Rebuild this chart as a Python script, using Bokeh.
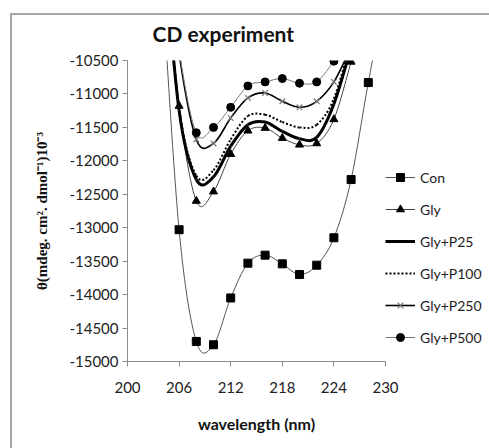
from bokeh.plotting import figure
from bokeh.models import FixedTicker, Legend, LegendItem
from bokeh.embed import file_html
from bokeh.resources import INLINE

# ---------------- data ----------------
x_ticks = [200, 206, 212, 218, 224, 230]
y_ticks = [-15000, -14500, -14000, -13500, -13000, -12500, -12000, -11500, -11000, -10500]
y_tick_labels = ["-15000", "-14500", "-14000", "-13500", "-13000", "-12500",
                 "-12000", "-11500", "-11000", "-10500"]

con_wl = [204, 206, 208, 210, 212, 214, 216, 218, 220, 222, 224, 226, 228, 230]
con = [-9300, -13030, -14700, -14750, -14050, -13530, -13410, -13540, -13700,
       -13560, -13150, -12280, -10830, -9500]

gly_wl = [204, 206, 208, 210, 212, 214, 216, 218, 220, 222, 224, 226]
gly = [-8500, -11180, -12600, -12460, -11900, -11550, -11510, -11660, -11760,
       -11740, -11380, -10520]

p25_wl = [204, 206, 208, 210, 212, 214, 216, 218, 220, 222, 224, 226]
p25 = [-8500, -11250, -12280, -12240, -11780, -11460, -11420, -11560, -11670,
       -11650, -11150, -10300]

p100_wl = [204, 206, 208, 210, 212, 214, 216, 218, 220, 222, 224, 226]
p100 = [-8500, -11200, -12220, -12140, -11680, -11330, -11310, -11420, -11500,
        -11460, -11070, -10200]

p250_wl = [204, 206, 208, 210, 212, 214, 216, 218, 220, 222, 224, 226]
p250 = [-8300, -10400, -11680, -11740, -11360, -11060, -10985, -11110, -11200,
        -11110, -10820, -10300]

p500_wl = [204, 206, 208, 210, 212, 214, 216, 218, 220, 222, 224]
p500 = [-8300, -10350, -11580, -11500, -11200, -10880, -10820, -10770, -10840,
        -10820, -10510]

series_names = ["Con", "Gly", "Gly+P25", "Gly+P100", "Gly+P250", "Gly+P500"]


def smooth_segments(xs, ys):
    """Bezier control points (Catmull-Rom style smoothing, as in a smoothed line chart)."""
    n = len(xs)
    out = {k: [] for k in ("x0", "y0", "x1", "y1", "cx0", "cy0", "cx1", "cy1")}
    for i in range(n - 1):
        xm, ym = (xs[i - 1], ys[i - 1]) if i > 0 else (xs[i], ys[i])
        xp, yp = (xs[i + 2], ys[i + 2]) if i + 2 < n else (xs[i + 1], ys[i + 1])
        out["x0"].append(xs[i]); out["y0"].append(ys[i])
        out["x1"].append(xs[i + 1]); out["y1"].append(ys[i + 1])
        out["cx0"].append(xs[i] + (xs[i + 1] - xm) / 6.0)
        out["cy0"].append(ys[i] + (ys[i + 1] - ym) / 6.0)
        out["cx1"].append(xs[i + 1] - (xp - xs[i]) / 6.0)
        out["cy1"].append(ys[i + 1] - (yp - ys[i]) / 6.0)
    return out


# ---------------- figure ----------------
p = figure(width=489, height=448, x_range=(200, 230), y_range=(-15000, -10500),
           output_backend="svg", toolbar_location=None,
           frame_width=258, frame_height=301,
           min_border_left=127, min_border_top=60, min_border_right=104, min_border_bottom=87)
# chart-area border (left and top edges) painted behind a transparent canvas
p.styles = {"background": "linear-gradient(#a6a6a6,#a6a6a6) 10px 13px / 100% 2px no-repeat, "
                          "linear-gradient(#a6a6a6,#a6a6a6) 10px 13px / 2px 100% no-repeat, white"}
p.background_fill_alpha = 0
p.border_fill_alpha = 0
p.outline_line_color = None
p.grid.visible = False

p.title.text = "CD experiment"
p.title.align = "left"
p.title.text_font = "Lato"
p.title.text_font_style = "bold"
p.title.text_font_size = "21px"
p.title.text_color = "#111111"
p.title.offset = 25
p.title.standoff = 29

for ax in (p.xaxis[0], p.yaxis[0]):
    ax.axis_line_color = "#8c8c8c"
    ax.major_tick_line_color = "#8c8c8c"
    ax.major_tick_out = 5
    ax.major_tick_in = 0
    ax.minor_tick_line_color = None
    ax.major_label_text_font = "Lato"
    ax.major_label_text_font_size = "15px"
    ax.major_label_text_color = "#222222"

p.xaxis.ticker = FixedTicker(ticks=x_ticks)
p.yaxis.ticker = FixedTicker(ticks=y_ticks)
p.yaxis.major_label_overrides = {t: s for t, s in zip(y_ticks, y_tick_labels)}
p.xaxis.major_label_standoff = 15
p.yaxis.major_label_standoff = 4

p.xaxis.axis_label = "wavelength (nm)"
p.xaxis.axis_label_text_font = "Lato"
p.xaxis.axis_label_text_font_style = "bold"
p.xaxis.axis_label_text_font_size = "16px"
p.xaxis.axis_label_text_color = "#111111"
p.xaxis.axis_label_standoff = 18

p.yaxis.axis_label = "θ(mdeg. cm². dmol⁻¹)10⁻³"
p.yaxis.axis_label_text_font = "Liberation Serif"
p.yaxis.axis_label_text_font_style = "bold"
p.yaxis.axis_label_text_font_size = "15px"
p.yaxis.axis_label_text_color = "#111111"
p.yaxis.axis_label_standoff = 16

styles = [
    # (xs, ys, line_color, line_width, dash, marker, marker_color, marker_size)
    (con_wl, con, "#555555", 1, "solid", "square", "black", 8),
    (gly_wl, gly, "#444444", 1, "solid", "triangle", "black", 8),
    (p25_wl, p25, "black", 3, "solid", None, None, 0),
    (p100_wl, p100, "black", 2, "2 2", None, None, 0),
    (p250_wl, p250, "black", 1.6, "solid", "x", "#777777", 8),
    (p500_wl, p500, "#777777", 1, "solid", "circle", "black", 8),
]

items = []
for name, (xs, ys, lc, lw, dash, mk, mc, ms) in zip(series_names, styles):
    seg = smooth_segments(xs, ys)
    p.bezier(x0=seg["x0"], y0=seg["y0"], x1=seg["x1"], y1=seg["y1"],
             cx0=seg["cx0"], cy0=seg["cy0"], cx1=seg["cx1"], cy1=seg["cy1"],
             line_color=lc, line_width=lw, line_dash=dash)
    # hidden renderer that only supplies the legend's line sample
    proxy_line = p.line(xs, ys, line_color=lc, line_width=lw, line_dash=dash, visible=False)
    rends = [proxy_line]
    if mk is not None:
        if mk == "x":
            r = p.scatter(xs, ys, marker="x", size=ms, line_color=mc, line_width=1.2)
        else:
            r = p.scatter(xs, ys, marker=mk, size=ms, fill_color=mc, line_color=mc)
        rends.append(r)
    items.append(LegendItem(label=name, renderers=rends))

legend = Legend(items=items, location=(0, 14), orientation="vertical",
                glyph_width=30, glyph_height=20, label_height=20, spacing=12,
                label_standoff=5, padding=0, margin=0,
                border_line_color=None, background_fill_alpha=0,
                inactive_fill_alpha=0,
                label_text_font="Lato", label_text_font_size="14px",
                label_text_color="#222222")
p.add_layout(legend, "right")

open("out.html", "w").write(file_html(p, INLINE))
